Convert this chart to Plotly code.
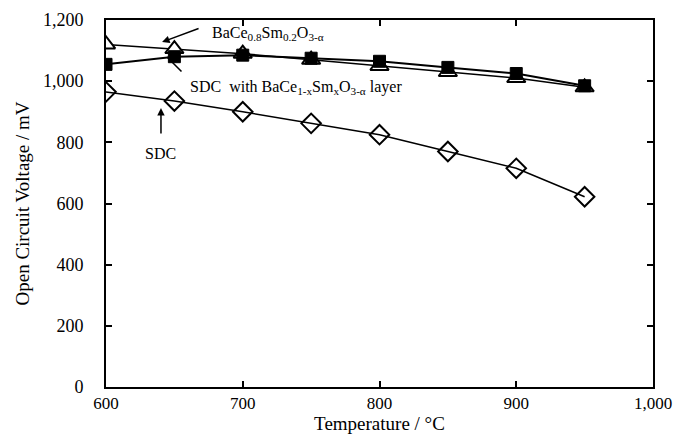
import plotly.graph_objects as go

temps = [600, 650, 700, 750, 800, 850, 900, 950]
bace_ocv = [1120, 1105, 1090, 1070, 1050, 1030, 1010, 980]
sdc_layer_ocv = [1055, 1080, 1085, 1075, 1065, 1045, 1025, 985]
sdc_ocv = [965, 935, 900, 862, 825, 770, 715, 622]

x_ticks = [600, 700, 800, 900, 1000]
y_ticks = [0, 200, 400, 600, 800, 1000, 1200]

FONT = "Liberation Serif"
fig = go.Figure()
fig.add_trace(go.Scatter(x=temps, y=sdc_ocv, mode="lines+markers",
    line=dict(color="black", width=1.5),
    marker=dict(symbol="diamond-open", size=15, color="black", line=dict(width=2))))
fig.add_trace(go.Scatter(x=temps, y=bace_ocv, mode="lines+markers",
    line=dict(color="black", width=1.5),
    marker=dict(symbol="triangle-up", size=16, color="white", line=dict(width=2, color="black"))))
fig.add_trace(go.Scatter(x=temps, y=sdc_layer_ocv, mode="lines+markers",
    line=dict(color="black", width=2),
    marker=dict(symbol="square", size=12, color="black", line=dict(width=1, color="black"))))

axis_common = dict(showgrid=False, zeroline=False, showline=True, linecolor="black",
                   linewidth=2, mirror="ticks", ticks="inside", ticklen=6, tickwidth=2,
                   tickcolor="black", tickformat=",d", automargin=False)
fig.update_xaxes(range=[600, 1000], tickvals=x_ticks, ticklabeloverflow="allow",
                 tickfont=dict(family=FONT, size=17, color="black"),
                 title=dict(text="Temperature / °C", font=dict(family=FONT, size=19, color="black"), standoff=2),
                 **axis_common)
fig.update_yaxes(range=[0, 1200], tickvals=y_ticks, ticklabelstandoff=17,
                 tickfont=dict(family=FONT, size=18, color="black"),
                 title=dict(text="Open Circuit Voltage / mV", font=dict(family=FONT, size=19, color="black"), standoff=8),
                 **axis_common)

ann_font = dict(family=FONT, size=16, color="black")
fig.add_annotation(x=641, y=1128, ax=38, ay=-14, text="", showarrow=True,
                   arrowhead=2, arrowsize=1, arrowwidth=1.5, arrowcolor="black")
fig.add_annotation(x=644.6, y=1079, ax=16, ay=16, text="", showarrow=True,
                   arrowhead=0, arrowwidth=1.5, arrowcolor="black")
fig.add_annotation(x=640.2, y=912, ax=0, ay=27, text="", showarrow=True,
                   arrowhead=2, arrowsize=1, arrowwidth=1.5, arrowcolor="black")
fig.add_annotation(x=676, y=1157, text="BaCe<sub>0.8</sub>Sm<sub>0.2</sub>O<sub>3-α</sub>",
                   showarrow=False, xanchor="left", yanchor="middle", font=ann_font)
fig.add_annotation(x=659.6, y=978, text="SDC  with BaCe<sub>1-x</sub>Sm<sub>x</sub>O<sub>3-α</sub> layer",
                   showarrow=False, xanchor="left", yanchor="middle", font=ann_font)
fig.add_annotation(x=640, y=762, text="SDC", showarrow=False, xanchor="center",
                   yanchor="middle", font=ann_font)

fig.update_layout(width=673, height=435, showlegend=False,
                  plot_bgcolor="white", paper_bgcolor="white",
                  margin=dict(l=106, r=20, t=20, b=48))
fig.write_html("out.html", config={"displayModeBar": False},
               post_script="document.body.style.margin='0px';")
